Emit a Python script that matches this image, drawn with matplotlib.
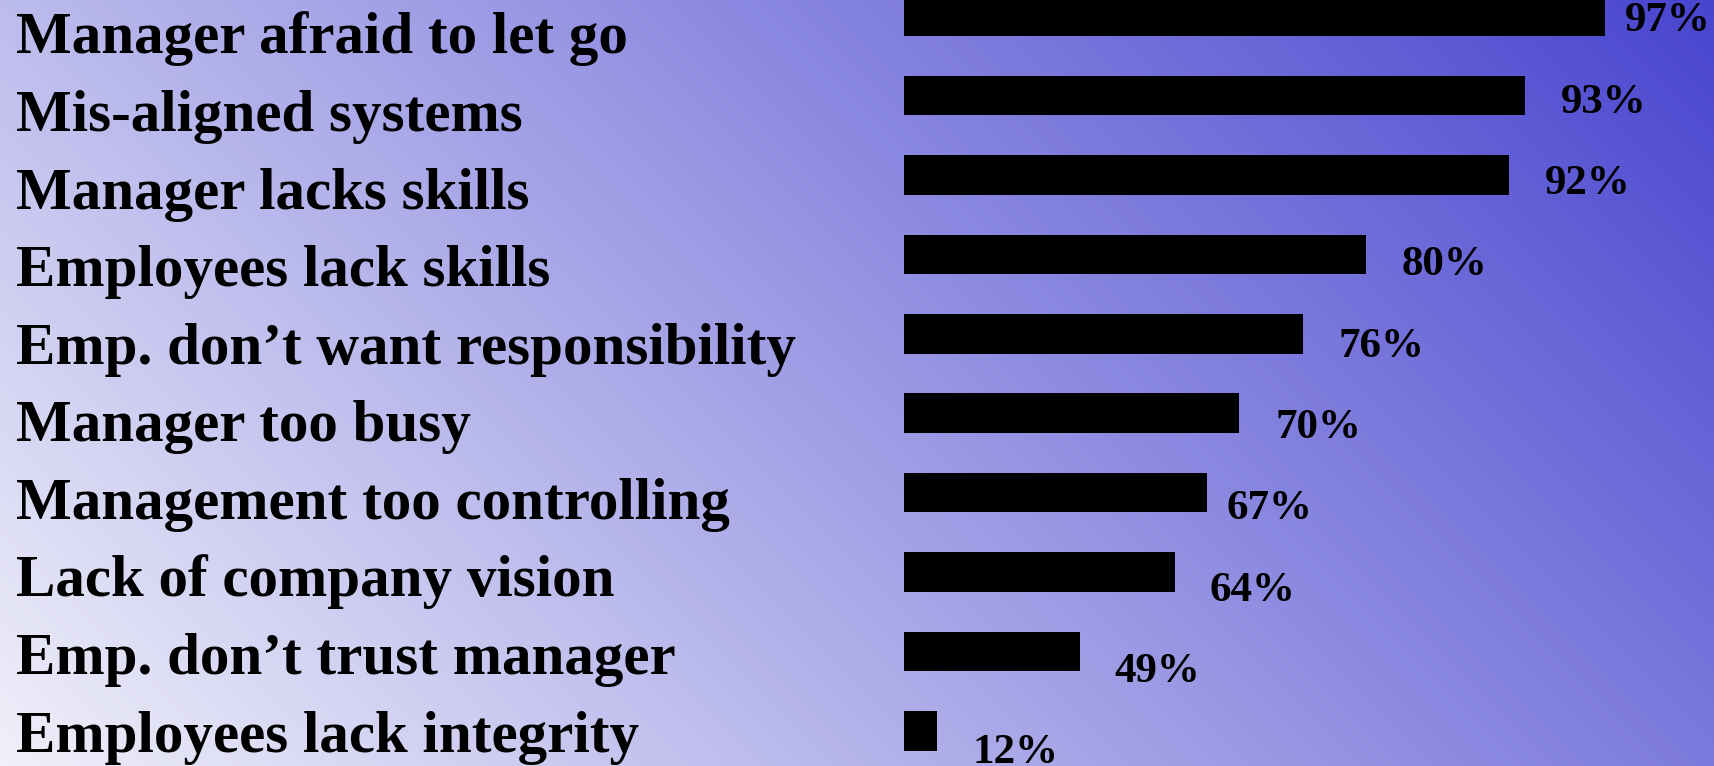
import numpy as np
import matplotlib
matplotlib.use("Agg")
import matplotlib.pyplot as plt
from matplotlib.colors import LinearSegmentedColormap

# ── Data ──────────────────────────────────────────────────────────────────────

reasons = [
    "Manager afraid to let go",
    "Mis-aligned systems",
    "Manager lacks skills",
    "Employees lack skills",
    "Emp. don’t want responsibility",
    "Manager too busy",
    "Management too controlling",
    "Lack of company vision",
    "Emp. don’t trust manager",
    "Employees lack integrity",
]
pct_labels = [97, 93, 92, 80, 76, 70, 67, 64, 49, 12]
# bar lengths as drawn in the picture (top bar = 97 units)
bar_lengths = [97, 86.0, 83.8, 64.0, 55.2, 46.4, 41.9, 37.5, 24.3, 4.5]

# ── Layout (pixels) ───────────────────────────────────────────────────────────

W, H, DPI = 1715, 766, 100
X0_PX = 904                  # where bars start
PX_PER_UNIT = 700.6 / 97
ROW0_PX, ROW_STEP_PX = 15.95, 79.45
BAR_H = 39.5 / ROW_STEP_PX

LABEL_X_PX = 15.5
LABEL_BASE0, LABEL_STEP = 53.3, 77.6
PCT_BASE0, PCT_STEP = 31.5, 81.3
pct_gap_px = [20, 36, 36, 35, 36, 36, 20, 35, 35, 36]

FONT = ["Liberation Serif", "DejaVu Serif"]


def px_to_x(px):
    return (px - X0_PX) / PX_PER_UNIT


def px_to_y(py):
    return (py - ROW0_PX) / ROW_STEP_PX


# ── Figure ────────────────────────────────────────────────────────────────────

fig = plt.figure(figsize=(W / DPI, H / DPI), dpi=DPI)

# diagonal background gradient (45°, bottom-left light → top-right blue)
bg = fig.add_axes([0, 0, 1, 1], zorder=0)
yy, xx = np.mgrid[0:H, 0:W]
s = np.sqrt(0.5)
t = ((xx - W / 2) * s + (H / 2 - yy) * s) / ((W + H) * s) + 0.5
cmap = LinearSegmentedColormap.from_list("bg", ["#f0f0fa", "#4845cf"])
bg.imshow(t, cmap=cmap, vmin=0, vmax=1, aspect="auto", origin="upper",
          extent=[0, W, H, 0], interpolation="bilinear")
bg.axis("off")

ax = fig.add_axes([0, 0, 1, 1], zorder=1)
ax.patch.set_alpha(0)
ax.set_xlim(px_to_x(0), px_to_x(W))
ax.set_ylim(px_to_y(H), px_to_y(0))
ax.axis("off")

rows = np.arange(len(reasons))
ax.barh(rows, bar_lengths, height=BAR_H, left=0, color="black", linewidth=0)

for i, (name, pct, length) in enumerate(zip(reasons, pct_labels, bar_lengths)):
    ax.text(px_to_x(LABEL_X_PX), px_to_y(LABEL_BASE0 + LABEL_STEP * i), name,
            family=FONT, weight="bold", fontsize=42.5, color="black",
            ha="left", va="baseline")
    end_px = X0_PX + length * PX_PER_UNIT
    ax.text(px_to_x(end_px + pct_gap_px[i]), px_to_y(PCT_BASE0 + PCT_STEP * i),
            f"{pct}%", family=FONT, weight="bold", fontsize=31, color="black",
            ha="left", va="baseline")

fig.savefig("out.png", dpi=DPI)
